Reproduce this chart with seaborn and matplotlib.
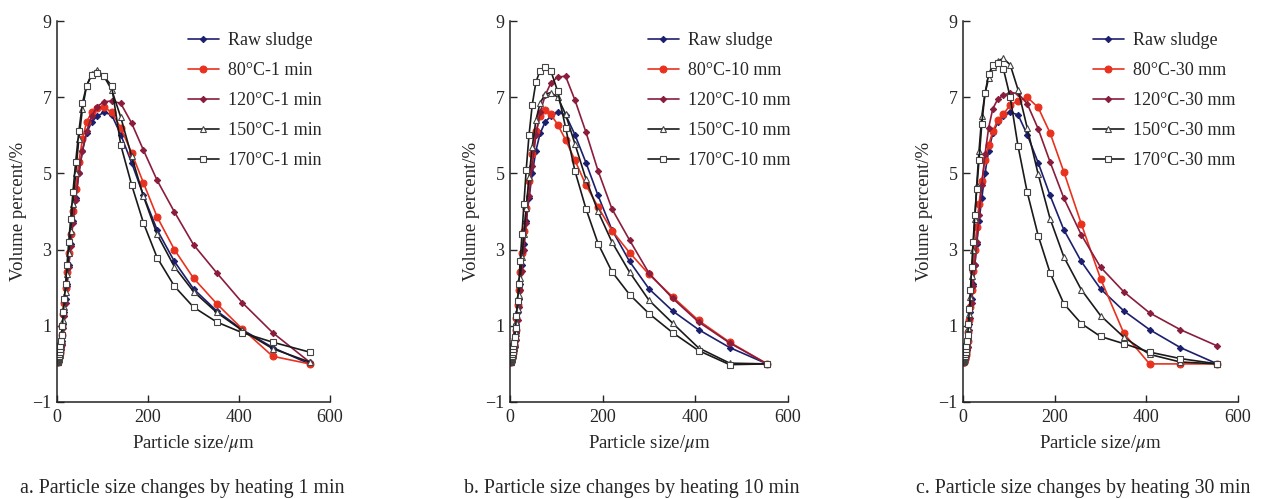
import matplotlib
matplotlib.use("Agg")
import matplotlib.pyplot as plt
import seaborn as sns
import pandas as pd

sizes = [1.0, 1.2, 1.4, 1.6, 1.9, 2.2, 2.5, 3.0, 3.5, 4.0, 4.7, 5.5, 6.4, 7.5, 8.8,
         10.2, 12, 14, 16.3, 19, 22, 25.8, 30, 35, 41, 48, 56, 65, 76, 88, 103, 120,
         140, 164, 190, 220, 258, 300, 351, 407, 474, 555]

raw = [0.05, 0.05, 0.06, 0.07, 0.08, 0.09, 0.1, 0.12, 0.14, 0.16, 0.19, 0.23, 0.28, 0.35, 0.45,
       0.6, 0.8, 1.05, 1.35, 1.7, 2.1, 2.6, 3.15, 3.75, 4.35, 5.0, 5.6, 6.05, 6.35, 6.5, 6.6, 6.54,
       6.02, 5.28, 4.42, 3.52, 2.69, 1.97, 1.39, 0.9, 0.43, 0.0]

a80 = [0.06, 0.06, 0.07, 0.08, 0.1, 0.11, 0.13, 0.15, 0.17, 0.2, 0.24, 0.29, 0.35, 0.43, 0.55,
       0.75, 1.0, 1.3, 1.6, 2.0, 2.4, 2.9, 3.4, 4.0, 4.6, 5.3, 5.9, 6.35, 6.6, 6.72, 6.75, 6.6,
       6.2, 5.54, 4.75, 3.86, 3.0, 2.25, 1.58, 0.92, 0.2, 0.0]
a120 = [0.04, 0.04, 0.05, 0.06, 0.07, 0.08, 0.09, 0.1, 0.12, 0.14, 0.17, 0.2, 0.25, 0.31, 0.38,
        0.5, 0.7, 0.95, 1.25, 1.6, 2.05, 2.55, 3.1, 3.7, 4.3, 5.0, 5.6, 6.1, 6.5, 6.75, 6.88, 6.9,
        6.84, 6.32, 5.61, 4.82, 3.99, 3.13, 2.39, 1.61, 0.82, 0.05]
a150 = [0.05, 0.05, 0.06, 0.07, 0.08, 0.09, 0.1, 0.12, 0.14, 0.16, 0.19, 0.23, 0.28, 0.35, 0.45,
        0.6, 0.85, 1.15, 1.5, 1.9, 2.35, 2.9, 3.5, 4.2, 5.0, 5.9, 6.7, 7.3, 7.6, 7.72, 7.55, 7.2,
        6.48, 5.45, 4.4, 3.4, 2.55, 1.9, 1.35, 0.88, 0.4, 0.05]
a170 = [0.06, 0.07, 0.08, 0.09, 0.1, 0.12, 0.14, 0.16, 0.19, 0.22, 0.26, 0.31, 0.38, 0.47, 0.6,
        0.75, 1.0, 1.35, 1.7, 2.1, 2.6, 3.2, 3.8, 4.5, 5.3, 6.1, 6.85, 7.3, 7.58, 7.63, 7.55, 7.3,
        5.75, 4.7, 3.7, 2.79, 2.04, 1.49, 1.1, 0.82, 0.57, 0.31]

b80 = [0.05, 0.06, 0.07, 0.08, 0.09, 0.1, 0.12, 0.14, 0.16, 0.19, 0.23, 0.28, 0.35, 0.43, 0.53,
       0.65, 0.9, 1.2, 1.55, 1.95, 2.4, 2.9, 3.5, 4.1, 4.8, 5.5, 6.1, 6.5, 6.66, 6.55, 6.28, 5.88,
       5.35, 4.69, 4.12, 3.5, 2.92, 2.35, 1.76, 1.14, 0.57, 0.0]
b120 = [0.04, 0.04, 0.05, 0.06, 0.07, 0.08, 0.09, 0.1, 0.12, 0.14, 0.17, 0.2, 0.25, 0.3, 0.36,
        0.45, 0.62, 0.85, 1.15, 1.5, 1.95, 2.45, 3.0, 3.7, 4.4, 5.2, 6.0, 6.6, 7.05, 7.37, 7.53, 7.55,
        6.93, 6.08, 5.07, 4.07, 3.25, 2.38, 1.72, 1.1, 0.55, 0.0]
b150 = [0.05, 0.05, 0.06, 0.07, 0.08, 0.09, 0.1, 0.12, 0.14, 0.16, 0.19, 0.23, 0.28, 0.34, 0.43,
        0.55, 0.8, 1.1, 1.45, 1.8, 2.25, 2.8, 3.4, 4.1, 4.9, 5.7, 6.4, 6.85, 7.08, 7.12, 7.0, 6.55,
        5.78, 4.85, 4.0, 3.2, 2.41, 1.67, 1.07, 0.42, 0.02, 0.0]
b170 = [0.06, 0.07, 0.08, 0.09, 0.1, 0.12, 0.14, 0.16, 0.19, 0.22, 0.26, 0.31, 0.38, 0.46, 0.56,
        0.7, 0.95, 1.25, 1.65, 2.1, 2.7, 3.4, 4.2, 5.1, 6.0, 6.8, 7.4, 7.7, 7.8, 7.7, 7.15, 6.2,
        5.07, 4.07, 3.16, 2.42, 1.82, 1.32, 0.82, 0.35, -0.02, 0.0]

c80 = [0.05, 0.05, 0.06, 0.07, 0.08, 0.09, 0.1, 0.12, 0.14, 0.16, 0.19, 0.23, 0.28, 0.35, 0.45,
       0.6, 0.85, 1.15, 1.5, 1.95, 2.45, 3.0, 3.6, 4.2, 4.8, 5.35, 5.75, 6.1, 6.4, 6.55, 6.8, 6.9,
       7.0, 6.73, 6.06, 5.04, 3.68, 2.24, 0.8, 0.0, 0.0, 0.0]
c120 = [0.04, 0.04, 0.05, 0.06, 0.07, 0.08, 0.09, 0.1, 0.12, 0.14, 0.17, 0.2, 0.25, 0.3, 0.36,
        0.45, 0.65, 0.9, 1.2, 1.6, 2.05, 2.6, 3.2, 3.9, 4.7, 5.5, 6.2, 6.7, 6.95, 7.05, 7.12, 7.1,
        6.83, 6.17, 5.3, 4.35, 3.39, 2.54, 1.89, 1.34, 0.9, 0.47]
c150 = [0.06, 0.07, 0.08, 0.09, 0.1, 0.12, 0.14, 0.16, 0.19, 0.22, 0.26, 0.31, 0.38, 0.46, 0.56,
        0.7, 0.95, 1.3, 1.75, 2.3, 3.0, 3.8, 4.7, 5.6, 6.5, 7.1, 7.5, 7.8, 7.95, 8.02, 7.85, 7.2,
        6.2, 4.98, 3.81, 2.81, 1.95, 1.27, 0.7, 0.25, 0.05, 0.0]
c170 = [0.06, 0.07, 0.08, 0.09, 0.1, 0.12, 0.14, 0.16, 0.19, 0.22, 0.26, 0.31, 0.38, 0.47, 0.6,
        0.75, 1.05, 1.45, 1.95, 2.55, 3.2, 3.9, 4.6, 5.35, 6.3, 7.1, 7.6, 7.85, 7.9, 7.75, 7.0, 5.72,
        4.51, 3.37, 2.39, 1.58, 1.06, 0.72, 0.53, 0.31, 0.14, 0.0]

labels_a = ["Raw sludge", "80°C-1 min", "120°C-1 min", "150°C-1 min", "170°C-1 min"]
labels_b = ["Raw sludge", "80°C-10 mm", "120°C-10 mm", "150°C-10 mm", "170°C-10 mm"]
labels_c = ["Raw sludge", "80°C-30 mm", "120°C-30 mm", "150°C-30 mm", "170°C-30 mm"]
captions = ["a. Particle size changes by heating 1 min",
            "b. Particle size changes by heating 10 min",
            "c. Particle size changes by heating 30 min"]
xticks = [0, 200, 400, 600]
yticks = [-1, 1, 3, 5, 7, 9]

panels = [(labels_a, [raw, a80, a120, a150, a170]),
          (labels_b, [raw, b80, b120, b150, b170]),
          (labels_c, [raw, c80, c120, c150, c170])]

sns.set_style("ticks")
plt.rcParams["font.family"] = ["Liberation Serif", "DejaVu Serif"]
plt.rcParams["mathtext.fontset"] = "stix"

styles = [
    dict(color="#1c1f6e", marker="D", markersize=3.2, markerfacecolor="#1c1f6e", markeredgecolor="#1c1f6e"),
    dict(color="#e8321f", marker="o", markersize=5.0, markerfacecolor="#e8321f", markeredgecolor="#e8321f"),
    dict(color="#8a1c3c", marker="D", markersize=3.2, markerfacecolor="#8a1c3c", markeredgecolor="#8a1c3c"),
    dict(color="#1a1a1a", marker="^", markersize=4.8, markerfacecolor="white", markeredgecolor="#444444", markeredgewidth=0.8),
    dict(color="#1a1a1a", marker="s", markersize=5.0, markerfacecolor="white", markeredgecolor="#444444", markeredgewidth=0.8),
]

W, H = 1261, 499
fig = plt.figure(figsize=(W / 100, H / 100), dpi=100)
lefts = [57, 510, 963]
rights = [330, 788, 1238]
leg_x = [188, 648, 1093]
cap_x = [182, 632, 1083]
top, bottom = 21, 402

for i, (labels, series) in enumerate(panels):
    ax = fig.add_axes([lefts[i] / W, 1 - bottom / H, (rights[i] - lefts[i]) / W, (bottom - top) / H])
    for lab, vals, st in zip(labels, series, styles):
        df = pd.DataFrame({"size": sizes, "vol": vals})
        sns.lineplot(data=df, x="size", y="vol", ax=ax, label=lab, sort=False,
                     estimator=None, linewidth=1.2, **st)
    ax.set_xlim(0, 600)
    ax.set_ylim(-1, 9)
    ax.set_xticks(xticks)
    ax.set_yticks(yticks)
    ax.set_yticklabels(["\u22121", "1", "3", "5", "7", "9"])
    ax.tick_params(direction="in", length=5, width=1, labelsize=13, pad=4)
    ax.tick_params(axis="x", pad=5)
    for s in ["top", "right"]:
        ax.spines[s].set_visible(False)
    for s in ["left", "bottom"]:
        ax.spines[s].set_linewidth(1.1)
        ax.spines[s].set_color("#222222")
    ax.set_xlabel("Particle size/$\\mu$m", fontsize=13.5, labelpad=5)
    ax.set_ylabel("Volume percent/%", fontsize=13.5, labelpad=4)
    w = rights[i] - lefts[i]
    ax.legend(loc="upper left", bbox_to_anchor=((leg_x[i] - lefts[i]) / w, 1 - (32 - top) / (bottom - top)),
              frameon=False, fontsize=13, borderpad=0, borderaxespad=0,
              handlelength=1.7, handletextpad=0.5, labelspacing=0.72)
    fig.text(cap_x[i] / W, 1 - 488 / H, captions[i], ha="center", va="center", fontsize=14.3)

fig.savefig("out.png", dpi=100)
